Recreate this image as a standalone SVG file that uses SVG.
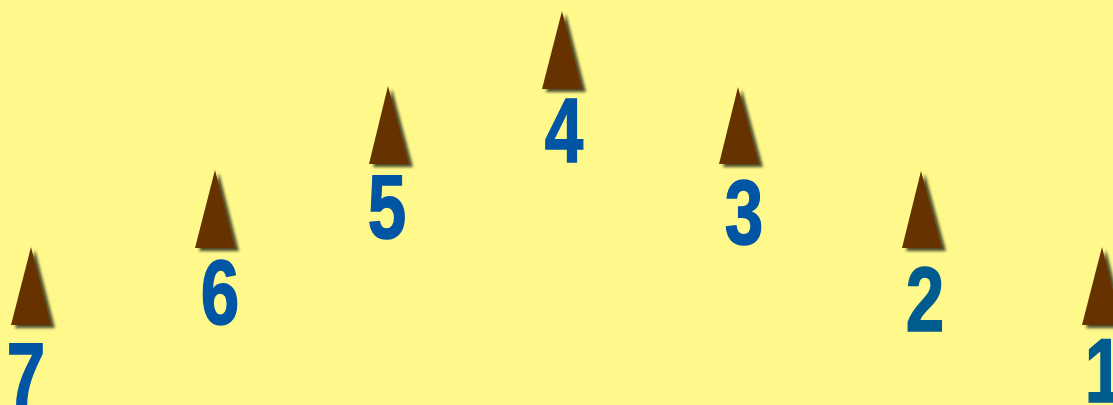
<svg xmlns="http://www.w3.org/2000/svg" width="1113" height="405" viewBox="0 0 1113 405">
<defs>
<filter id="sh" x="-30%" y="-20%" width="160%" height="140%">
<feGaussianBlur in="SourceAlpha" stdDeviation="1.8"/>
<feOffset dx="4" dy="3" result="b"/>
<feFlood flood-color="#000" flood-opacity="0.7"/>
<feComposite in2="b" operator="in"/>
<feMerge><feMergeNode/><feMergeNode in="SourceGraphic"/></feMerge>
</filter>
<style>
.cone{fill:#663300;filter:url(#sh)}
.num{font-family:"Liberation Sans",Arial,sans-serif;font-weight:bold;font-size:91px;fill:#0055A4;stroke:#0055A4;stroke-width:1.6;stroke-linejoin:miter;text-anchor:middle}
.num2{fill:#005B8E;stroke:#005B8E}
</style>
</defs>
<rect width="1113" height="405" fill="#FFF98C"/>
<g id="cone7"><polygon class="cone" points="31,247 11,325 51,325"/><text class="num" transform="translate(26,406) scale(0.76,1)">7</text></g>
<g id="cone6"><polygon class="cone" points="215,170 195,248 235,248"/><text class="num" transform="translate(220,324) scale(0.76,1)">6</text></g>
<g id="cone5"><polygon class="cone" points="388,86 369,164 409,164"/><text class="num" transform="translate(387,238) scale(0.76,1)">5</text></g>
<g id="cone4"><polygon class="cone" points="562,11 542,89 582,89"/><text class="num" transform="translate(564,162) scale(0.76,1)">4</text></g>
<g id="cone3"><polygon class="cone" points="738,87 719,164 759,164"/><text class="num" transform="translate(744,244) scale(0.76,1)">3</text></g>
<g id="cone2"><polygon class="cone" points="921,171 902,248 942,248"/><text class="num num2" transform="translate(925,331) scale(0.76,1)">2</text></g>
<g id="cone1"><polygon class="cone" points="1102,247 1082,325 1122,325"/><text class="num num2" transform="translate(1104,402) scale(0.76,1)">1</text></g>
<g id="connectors"></g>
</svg>
